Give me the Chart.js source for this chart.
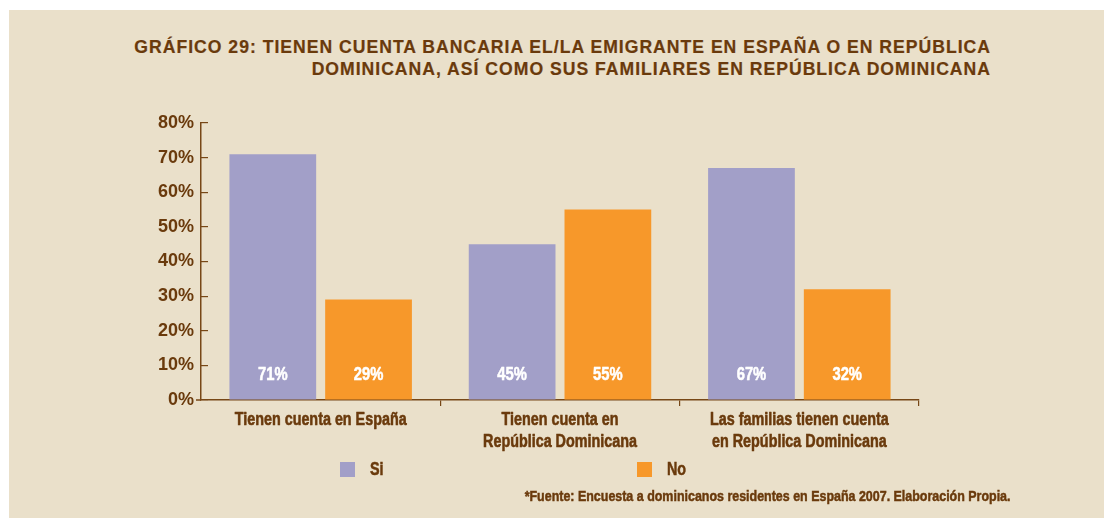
<!DOCTYPE html>
<html>
<head>
<meta charset="utf-8">
<script src="https://cdn.jsdelivr.net/npm/chart.js@4.4.1/dist/chart.umd.min.js"></script>
<style>
  html, body { margin: 0; padding: 0; background: #ffffff; width: 1104px; height: 518px; overflow: hidden; }
  #bg { position: absolute; left: 9px; top: 10px; right: 0; bottom: 0; background: #eae0ca; }
  #wrap { position: absolute; left: 0; top: 0; width: 1104px; height: 518px; }
  #title { position: absolute; top: 36px; right: 113px; text-align: right; color: #6a3a0c;
           font-family: 'Liberation Sans', Arial, sans-serif; font-weight: bold; font-size: 17.6px;
           line-height: 22px; letter-spacing: 1.0px; white-space: nowrap; -webkit-text-stroke: 0.2px #6a3a0c; }
  .narrow { font-family: 'Liberation Sans', Arial, sans-serif; font-weight: bold; -webkit-text-stroke: 0.5px #6a3a0c; }
  #legend { position: absolute; left: 340px; top: 458px; display: flex; color: #6a3a0c; font-size: 17.5px; }
  .item { display: flex; align-items: center; width: 297px; height: 22px; }
  .box { width: 15px; height: 15px; margin-right: 15px; flex: none; }
  .item span { display: inline-block; transform: scaleX(0.82); transform-origin: left center; }
  #foot { position: absolute; right: 93px; top: 486px; color: #6a3a0c; font-size: 15.2px; line-height: 20px;
          white-space: nowrap; transform: scaleX(0.82); transform-origin: right center; }
</style>
</head>
<body>
<div id="bg"></div>
<div id="title"></div>
<div id="wrap"><canvas id="c" width="1104" height="518"></canvas></div>
<div id="legend" class="narrow"></div>
<div id="foot" class="narrow"></div>
<script>
// ---- data ----
const titleLines = [
  "GRÁFICO 29: TIENEN CUENTA BANCARIA EL/LA EMIGRANTE EN ESPAÑA O EN REPÚBLICA",
  "DOMINICANA, ASÍ COMO SUS FAMILIARES EN REPÚBLICA DOMINICANA"
];
const categories = [
  ["Tienen cuenta en España"],
  ["Tienen cuenta en", "República Dominicana"],
  ["Las familias tienen cuenta", "en República Dominicana"]
];
const seriesNames = ["Si", "No"];
const siValues = [71, 45, 67];
const noValues = [29, 55, 32];
const yTickValues = [0, 10, 20, 30, 40, 50, 60, 70, 80];
const footnote = "*Fuente: Encuesta a dominicanos residentes en España 2007. Elaboración Propia.";

// ---- styles ----
const BROWN = "#6a3a0c";
const AXIS = "#774716";
const COLORS = ["#a29fc8", "#f7982a"];
const SANS = "'Liberation Sans', Arial, sans-serif";
const CONDENSE = 0.82;

document.getElementById("title").innerHTML = titleLines.map(t => "<div>" + t + "</div>").join("");
document.getElementById("foot").textContent = footnote;
const legendEl = document.getElementById("legend");
seriesNames.forEach((n, i) => {
  const it = document.createElement("div");
  it.className = "item";
  const b = document.createElement("div");
  b.className = "box";
  b.style.background = COLORS[i];
  const s = document.createElement("span");
  s.textContent = n;
  it.appendChild(b); it.appendChild(s);
  legendEl.appendChild(it);
});

function condensedText(ctx, text, x, y) {
  ctx.save();
  ctx.translate(x, y);
  ctx.scale(CONDENSE, 1);
  ctx.lineWidth = 0.55;
  ctx.lineJoin = "round";
  ctx.strokeStyle = ctx.fillStyle;
  ctx.strokeText(text, 0, 0);
  ctx.fillText(text, 0, 0);
  ctx.restore();
}

const condensedLabels = {
  id: "condensedLabels",
  afterDraw(chart) {
    const ctx = chart.ctx;
    const xs = chart.scales.x, ys = chart.scales.y;
    // short extension of the zero line left of the axis
    ctx.save();
    ctx.strokeStyle = AXIS;
    ctx.lineWidth = 1.5;
    ctx.beginPath();
    const y0 = ys.getPixelForValue(0);
    ctx.moveTo(xs.left - 5, y0);
    ctx.lineTo(xs.left, y0);
    ctx.stroke();
    ctx.restore();
    // value labels inside bars
    ctx.save();
    ctx.fillStyle = "#ffffff";
    ctx.font = "bold 18px " + SANS;
    ctx.textAlign = "center";
    ctx.textBaseline = "middle";
    chart.data.datasets.forEach((ds, di) => {
      const meta = chart.getDatasetMeta(di);
      meta.data.forEach((el, i) => {
        condensedText(ctx, ds.data[i] + "%", el.x, el.base - 24);
      });
    });
    ctx.restore();
    // category labels under the axis
    ctx.save();
    ctx.fillStyle = BROWN;
    ctx.font = "bold 17.5px " + SANS;
    ctx.textAlign = "center";
    ctx.textBaseline = "alphabetic";
    chart.data.labels.forEach((lines, i) => {
      const x = xs.getPixelForValue(i);
      lines.forEach((line, j) => {
        condensedText(ctx, line, x, xs.top + 25 + j * 22);
      });
    });
    ctx.restore();
  }
};

new Chart(document.getElementById("c"), {
  type: "bar",
  data: {
    labels: categories,
    datasets: [
      { label: seriesNames[0], data: siValues, backgroundColor: COLORS[0], categoryPercentage: 0.8, barPercentage: 0.906 },
      { label: seriesNames[1], data: noValues, backgroundColor: COLORS[1], categoryPercentage: 0.8, barPercentage: 0.906 }
    ]
  },
  options: {
    responsive: false,
    animation: false,
    layout: { padding: { left: 141, right: 185, top: 123, bottom: 58 } },
    plugins: { legend: { display: false }, tooltip: { enabled: false }, title: { display: false } },
    scales: {
      x: {
        afterFit: s => { s.height = 60; },
        grid: {
          drawOnChartArea: false, drawTicks: true, tickLength: 6, lineWidth: 1.2,
          color: c => (c.index === 0 || c.index === categories.length) ? "rgba(0,0,0,0)" : AXIS
        },
        border: { color: AXIS, width: 1.5 },
        ticks: { display: false }
      },
      y: {
        min: yTickValues[0], max: yTickValues[yTickValues.length - 1],
        afterFit: s => { s.width = 60; },
        afterBuildTicks: s => { s.ticks = yTickValues.map(v => ({ value: v })); },
        grid: { drawOnChartArea: false, drawTicks: true, tickLength: -7, color: AXIS, lineWidth: 1.2 },
        border: { color: AXIS, width: 1.5 },
        ticks: { color: BROWN, padding: 14, font: { family: SANS, size: 18, weight: "bold" }, callback: v => v + "%" }
      }
    }
  },
  plugins: [condensedLabels]
});
</script>
</body>
</html>
